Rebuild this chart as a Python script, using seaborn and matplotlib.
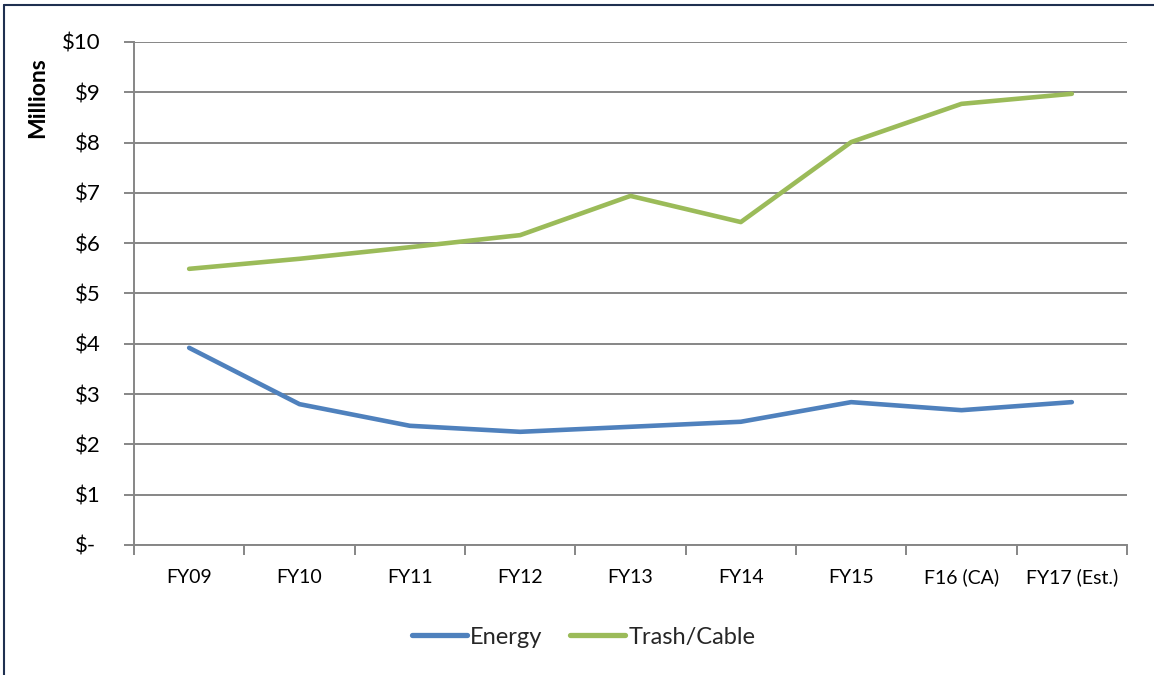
import matplotlib
matplotlib.use("Agg")
import matplotlib.pyplot as plt
from matplotlib.lines import Line2D
from matplotlib.ticker import FixedLocator
from matplotlib.transforms import ScaledTranslation
import numpy as np
import pandas as pd
import seaborn as sns

# Annual cost by fiscal year, in millions of dollars
years = ["FY09", "FY10", "FY11", "FY12", "FY13", "FY14", "FY15", "F16 (CA)", "FY17 (Est.)"]
energy = [3.92, 2.80, 2.37, 2.25, 2.35, 2.45, 2.84, 2.68, 2.84]
trash_cable = [5.49, 5.69, 5.92, 6.16, 6.94, 6.42, 8.01, 8.77, 8.97]
series_names = ["Energy", "Trash/Cable"]
series_colors = ["#4F81BD", "#9BBB59"]
y_ticks = list(range(0, 11))
y_tick_labels = ["$-"] + [f"${v}" for v in y_ticks[1:]]

df = pd.DataFrame({
    "year": years * 2,
    "value": energy + trash_cable,
    "series": [series_names[0]] * len(years) + [series_names[1]] * len(years),
})

sns.set_theme(style="white")
plt.rcParams["font.family"] = ["Lato", "DejaVu Sans"]

fig = plt.figure(figsize=(11.54, 6.75), dpi=100)
ax = fig.add_axes([0.1161, 0.1926, 0.9766 - 0.1161, 0.9378 - 0.1926])

sns.lineplot(data=df, x="year", y="value", hue="series", palette=series_colors,
             hue_order=series_names, sort=False, linewidth=3.3, ax=ax, legend=False)
for line in ax.get_lines():
    line.set_solid_capstyle("round")

n = len(years)
ax.set_xlim(-0.5, n - 0.5)
ax.set_ylim(0, 10)

grid_color = "#868686"
ax.set_yticks(y_ticks)
ax.set_yticklabels(y_tick_labels)
ax.yaxis.grid(True, color=grid_color, linewidth=1.4)
ax.xaxis.grid(False)
ax.set_axisbelow(True)

ax.set_xticks(range(n))
ax.set_xticklabels(years)
ax.xaxis.set_minor_locator(FixedLocator(np.arange(-0.5, n, 1.0)))
ax.tick_params(axis="x", which="major", length=0, pad=17, labelsize=14, colors="black")
ax.tick_params(axis="x", which="minor", bottom=True, length=7, width=1.4, color=grid_color)
ax.tick_params(axis="y", left=True, length=7, width=1.4, color=grid_color,
               pad=17, labelsize=16, labelcolor="black")

# accounting-style zero label sits a little left of the other amounts
zero_label = ax.yaxis.get_major_ticks()[0].label1
zero_label.set_transform(zero_label.get_transform()
                         + ScaledTranslation(-0.05, 0, fig.dpi_scale_trans))

for side in ["top", "right"]:
    ax.spines[side].set_visible(False)
for side in ["left", "bottom"]:
    ax.spines[side].set_color(grid_color)
    ax.spines[side].set_linewidth(1.4)

ax.set_xlabel("")
ax.set_ylabel("")
fig.text(0.033, 0.856, "Millions", rotation=90, ha="center", va="center",
         fontsize=16.5, fontweight="bold", color="black")

handles = [Line2D([0], [0], color=c, linewidth=3.8, solid_capstyle="round") for c in series_colors]
fig.legend(handles, series_names, loc="center", bbox_to_anchor=(0.5056, 0.056),
           ncol=2, frameon=False, fontsize=17, handlelength=2.33, handletextpad=0.13,
           columnspacing=1.2)

# outer frame edges
frame_color = "#1F3050"
fig.add_artist(Line2D([0.0035, 0.0035], [0.0, 0.9926], transform=fig.transFigure,
                      color=frame_color, linewidth=1.5))
fig.add_artist(Line2D([0.0035, 1.0], [0.9926, 0.9926], transform=fig.transFigure,
                      color=frame_color, linewidth=1.5))

fig.savefig("out.png", dpi=100)
